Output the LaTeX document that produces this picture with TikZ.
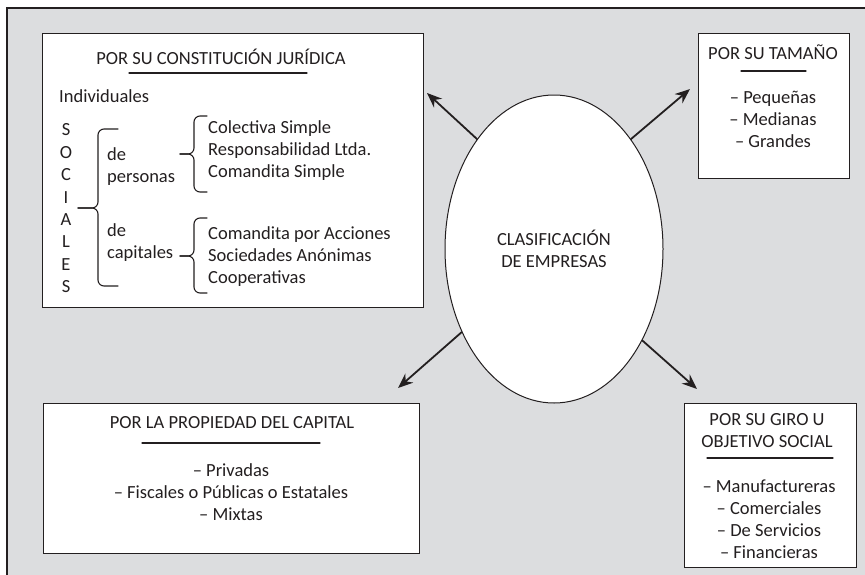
\documentclass[tikz,border=0pt]{standalone}
\usepackage{fontspec}
\setmainfont{Carlito}
\usetikzlibrary{shapes.geometric,arrows.meta}
\definecolor{fondo}{RGB}{220,221,223}
\definecolor{tinta}{RGB}{35,31,32}

\begin{document}
\begin{tikzpicture}[x=1pt, y=-1pt, line cap=round]

    % let's define some key values
    \def\fs{\fontsize{18.5}{22}\selectfont}
    \coordinate (t1) at (427,93);
    \coordinate (t2) at (690,89);
    \coordinate (t3) at (398,388);
    \coordinate (t4) at (697,389);

    % Styles
    \tikzstyle{caja}=[draw=tinta, fill=white, line width=1pt, inner sep=0]
    \tikzstyle{txt}=[text=tinta, font=\fs, inner sep=0]
    \tikzstyle{flecha}=[-{Stealth[length=15pt,width=12pt]}, line width=1.8pt, tinta]
    \tikzstyle{raya}=[tinta, line width=1.1pt]

    % brace: tip x, line x, end x, top y, tip y, bottom y
    \def\llave#1#2#3#4#5#6{%
      \draw[raya, rounded corners=6] (#3,#4) -- (#2,#4) -- (#2,#5) -- (#1,#5);
      \draw[raya, rounded corners=6] (#3,#6) -- (#2,#6) -- (#2,#5) -- (#1,#5);}

    \useasboundingbox (0,0) rectangle (865,574);
    \draw[fill=fondo, draw=tinta, line width=1.3pt] (7,8) rectangle (868,578);

    % boxes
    \node[caja, minimum width=381, minimum height=274] (jur) at (232.5,170) {};
    \node[caja, minimum width=151, minimum height=145] (tam) at (773.5,105.5) {};
    \node[caja, minimum width=376, minimum height=150] (pro) at (231,478) {};
    \node[caja, minimum width=172, minimum height=164] (gir) at (770,485) {};

    % por su constitucion juridica
    \node[txt] (jurt) at (221,57) {POR SU CONSTITUCIÓN JURÍDICA};
    \draw[raya] (129,73) -- (307,73);
    \node[txt, anchor=west] (ind) at (59,96) {Individuales};
    \foreach \l [count=\i] in {S,O,C,I,A,L,E,S}
      \node[txt] (s\i) at (66,{130+22.4*(\i-1)}) {\l};
    \llave{78}{98}{118}{129}{208}{286}
    \node[txt, anchor=west, align=left] (per) at (107,166.5) {de\\personas};
    \node[txt, anchor=west, align=left] (cap) at (107,243) {de\\capitales};
    \llave{180}{194}{207}{116}{154}{192}
    \llave{180}{194}{207}{218}{256}{293}
    \node[txt, anchor=west, align=left] (gp) at (208,151)
      {Colectiva Simple\\Responsabilidad Ltda.\\Comandita Simple};
    \node[txt, anchor=west, align=left] (gc) at (208,256.5)
      {Comandita por Acciones\\Sociedades Anónimas\\Cooperativas};

    % por su tamano
    \node[txt] (tamt) at (773,52) {POR SU TAMAÑO};
    \draw[raya] (741,71) -- (806,71);
    \node[txt, align=center] (tami) at (773,119) {– Pequeñas\\– Medianas\\– Grandes};

    % por la propiedad del capital
    \node[txt] (prot) at (232,423) {POR LA PROPIEDAD DEL CAPITAL};
    \draw[raya] (142,443) -- (320,443);
    \node[txt, align=center] (proi) at (231,492.5)
      {– Privadas\\– Fiscales o Públicas o Estatales\\– Mixtas};

    % por su giro
    \node[txt, align=center] (girt) at (767,431) {POR SU GIRO U\\OBJETIVO SOCIAL};
    \draw[raya] (707,458) -- (833,458);
    \node[txt, align=center] (giri) at (769,519.5)
      {– Manufactureras\\– Comerciales\\– De Servicios\\– Financieras};

    % centre
    \node[ellipse, draw=tinta, fill=white, line width=1pt, minimum width=218,
      minimum height=308, txt, align=center] (clas) at (554,249)
      {CLASIFICACIÓN\\DE EMPRESAS};

    % arrows
    \draw[flecha] (clas.125) -- (t1);
    \draw[flecha] (clas.55) -- (t2);
    \draw[flecha] (clas.222) -- (t3);
    \draw[flecha] (clas.314) -- (t4);

\end{tikzpicture}
\end{document}
